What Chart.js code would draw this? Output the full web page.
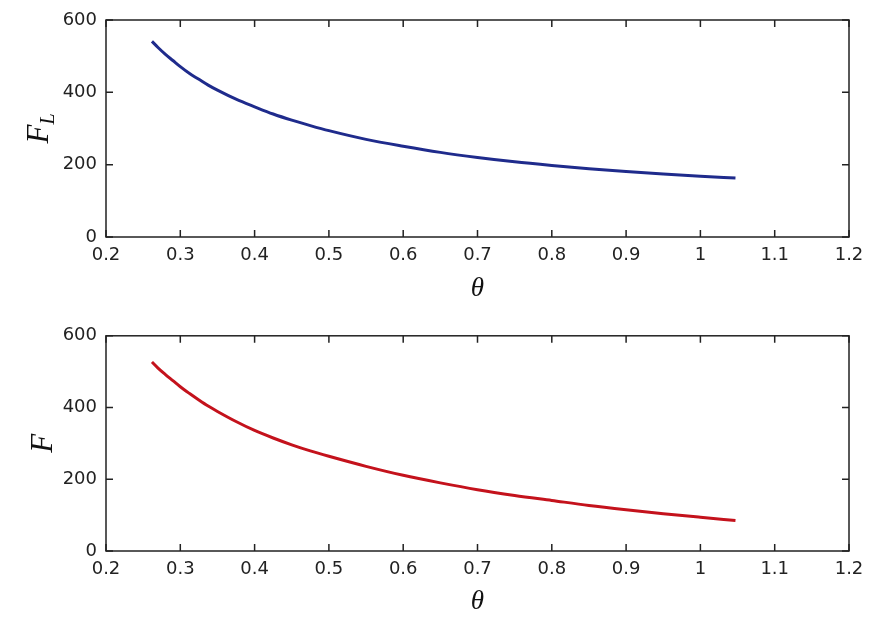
<!DOCTYPE html>
<html>
<head>
<meta charset="utf-8">
<script src="https://cdn.jsdelivr.net/npm/chart.js@4.4.1/dist/chart.umd.min.js"></script>
<style>
  html, body { margin: 0; padding: 0; background: #fff; }
  .box { position: absolute; left: 0; width: 886px; height: 316px; }
</style>
</head>
<body>
<div class="box" style="top:0"><canvas id="topChart"></canvas></div>
<div class="box" style="top:316px"><canvas id="botChart"></canvas></div>
<script>
// values
const theta  = [0.2618, 0.27, 0.28, 0.29, 0.30, 0.3125, 0.325, 0.3375, 0.35, 0.375, 0.40, 0.425, 0.45, 0.475, 0.50, 0.55, 0.60, 0.65, 0.70, 0.75, 0.80, 0.85, 0.90, 0.95, 1.00, 1.0472];
const forceL = [541, 524, 505, 488, 471, 452, 436, 420, 406, 381, 360, 340, 323, 308, 294, 270, 251, 234, 220, 208, 198, 189, 181, 174, 168, 163];
const force  = [527, 510, 492, 475, 458, 439, 421, 404, 389, 361, 336, 315, 296, 279, 264, 236, 211, 190, 171, 155, 141, 127, 115, 104, 94, 85];
const xTicks = [0.2, 0.3, 0.4, 0.5, 0.6, 0.7, 0.8, 0.9, 1.0, 1.1, 1.2];
const yTicks = [0, 200, 400, 600];

const tickFont = { family: 'DejaVu Sans', size: 18 };
const axisColor = '#222';

// matlab style box with inward ticks on all four sides
const boxPlugin = {
  id: 'box',
  afterDraw(chart) {
    const { ctx, chartArea: a, scales: { x, y } } = chart;
    const len = 7;
    ctx.save();
    ctx.strokeStyle = axisColor;
    ctx.lineWidth = 1.5;
    ctx.strokeRect(a.left, a.top, a.right - a.left, a.bottom - a.top);
    ctx.beginPath();
    x.ticks.forEach(t => {
      const px = x.getPixelForValue(t.value);
      ctx.moveTo(px, a.bottom); ctx.lineTo(px, a.bottom - len);
      ctx.moveTo(px, a.top);    ctx.lineTo(px, a.top + len);
    });
    y.ticks.forEach(t => {
      const py = y.getPixelForValue(t.value);
      ctx.moveTo(a.left, py);  ctx.lineTo(a.left + len, py);
      ctx.moveTo(a.right, py); ctx.lineTo(a.right - len, py);
    });
    ctx.stroke();
    ctx.restore();
  }
};

// rotated y label with optional subscript
const yLabelPlugin = {
  id: 'yLabel',
  afterDraw(chart, args, opts) {
    const { ctx, chartArea: a } = chart;
    const cy = (a.top + a.bottom) / 2;
    const mainFont = 'italic 31px "Liberation Serif"';
    const subFont = 'italic 20px "Liberation Serif"';
    ctx.save();
    ctx.translate(opts.x, cy);
    ctx.rotate(-Math.PI / 2);
    ctx.fillStyle = '#111';
    ctx.textBaseline = 'alphabetic';
    ctx.font = mainFont;
    const wMain = ctx.measureText(opts.main).width;
    let wSub = 0;
    if (opts.sub) {
      ctx.font = subFont;
      wSub = ctx.measureText(opts.sub).width;
    }
    const start = -(wMain + wSub) / 2;
    ctx.font = mainFont;
    ctx.fillText(opts.main, start, 0);
    if (opts.sub) {
      ctx.font = subFont;
      ctx.fillText(opts.sub, start + wMain, 6);
    }
    ctx.restore();
  }
};

function makeChart(id, values, color, padTop, xHeight, titlePad, yLab) {
  return new Chart(document.getElementById(id), {
    type: 'scatter',
    data: {
      datasets: [{
        data: theta.map((t, i) => ({ x: t, y: values[i] })),
        showLine: true,
        borderColor: color,
        borderWidth: 3,
        pointRadius: 0,
        fill: false,
        cubicInterpolationMode: 'monotone'
      }]
    },
    options: {
      responsive: true,
      maintainAspectRatio: false,
      animation: false,
      layout: { padding: { top: padTop, right: 37, left: 0, bottom: 0 } },
      plugins: {
        legend: { display: false },
        tooltip: { enabled: false },
        yLabel: yLab
      },
      scales: {
        x: {
          type: 'linear',
          min: 0.2, max: 1.2,
          afterBuildTicks: s => { s.ticks = xTicks.map(v => ({ value: v })); },
          afterFit: s => { s.height = xHeight; },
          grid: { display: false, drawTicks: false },
          border: { display: false },
          ticks: {
            padding: 8,
            color: '#222',
            font: tickFont,
            maxRotation: 0,
            autoSkip: false,
            callback: v => String(+v.toFixed(1))
          },
          title: {
            display: true,
            text: 'θ',
            color: '#111',
            font: { family: 'Liberation Serif', size: 27, style: 'italic' },
            padding: { top: 0, bottom: titlePad }
          }
        },
        y: {
          min: 0, max: 600,
          afterBuildTicks: s => { s.ticks = yTicks.map(v => ({ value: v })); },
          afterFit: s => { s.width = 106; },
          grid: { display: false, drawTicks: false },
          border: { display: false },
          ticks: { padding: 9, color: '#222', font: tickFont }
        }
      }
    },
    plugins: [boxPlugin, yLabelPlugin]
  });
}

makeChart('topChart', forceL, '#1f2b8c', 20, 79, 11, { x: 48, main: 'F', sub: 'L' });
makeChart('botChart', force, '#c4121c', 19, 81, 14, { x: 52, main: 'F', sub: '' });
</script>
</body>
</html>
